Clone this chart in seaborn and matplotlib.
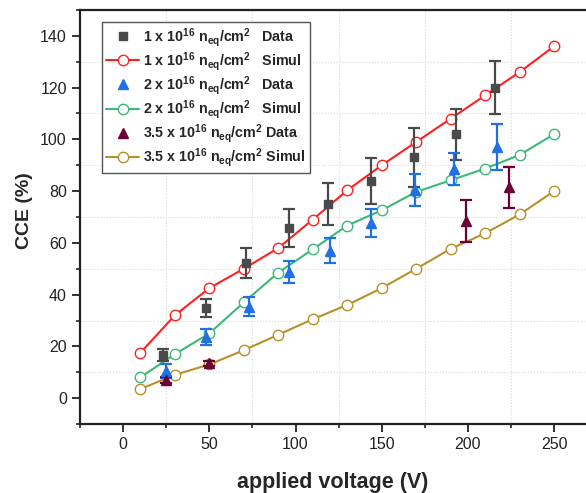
import numpy as np
import pandas as pd
import seaborn as sns
import matplotlib.pyplot as plt
from matplotlib.ticker import MultipleLocator

# simulation (open circles)
v_sim = [10, 30, 50, 70, 90, 110, 130, 150, 170, 190, 210, 230, 250]
sim_1 = [17.5, 32, 42.5, 50, 58, 69, 80.3, 90, 99, 108, 117, 126, 136]
sim_2 = [8, 17, 25, 37, 48.5, 57.5, 66.7, 72.6, 79.7, 84.2, 88.7, 94, 102]
sim_35 = [3.5, 9, 13, 18.5, 24.5, 30.5, 36, 42.5, 50, 57.7, 63.7, 71, 80]

# measured data
v_d1 = [23, 48, 71, 96, 119, 144, 169, 193, 216]
d1 = [16.7, 35, 52.2, 65.7, 75, 84, 93, 102, 120]
e1 = [2.2, 3.5, 5.7, 7.3, 8, 8.8, 11.3, 9.8, 10.2]

v_d2 = [24.6, 48.3, 73, 96, 120, 144, 169.3, 192, 217]
d2 = [10.5, 23.7, 35.3, 48.8, 57, 67.5, 80.5, 88.5, 97]
e2 = [2.6, 3.2, 3.7, 4.2, 4.7, 5.4, 6.2, 6.1, 8.9]

v_d35 = [25, 50, 199, 224]
d35 = [7, 13.5, 68.5, 81.5]
e35 = [1.2, 1, 8, 8]

lab1 = r'1 x 10$^{\mathbf{16}}$ n$_{\mathbf{eq}}$/cm$^{\mathbf{2}}$'
lab2 = r'2 x 10$^{\mathbf{16}}$ n$_{\mathbf{eq}}$/cm$^{\mathbf{2}}$'
lab35 = r'3.5 x 10$^{\mathbf{16}}$ n$_{\mathbf{eq}}$/cm$^{\mathbf{2}}$'

sns.set_style('white')
plt.rcParams['font.family'] = ['Liberation Sans', 'DejaVu Sans']
plt.rcParams['mathtext.fontset'] = 'custom'
plt.rcParams['mathtext.rm'] = 'Liberation Sans'
plt.rcParams['mathtext.bf'] = 'Liberation Sans:bold'

fig = plt.figure(figsize=(5.86, 4.93), dpi=100)
ax = fig.add_axes([80/586, 69/493, 506/586, 414/493])

c_red, c_green, c_gold = '#ff2020', '#3cb878', '#b8902a'
c_blk, c_blue, c_mar = '#4a4a4a', '#1f6fe6', '#6b0035'

sim = pd.DataFrame({'v': v_sim, 's1': sim_1, 's2': sim_2, 's35': sim_35})
for col, c in [('s1', c_red), ('s2', c_green), ('s35', c_gold)]:
    sns.lineplot(data=sim, x='v', y=col, ax=ax, color=c, lw=1.5, marker='o',
                 markersize=7.5, markerfacecolor='white', markeredgecolor=c,
                 markeredgewidth=1.0, zorder=2)

h_d1 = ax.errorbar(v_d1, d1, yerr=e1, fmt='s', color=c_blk, ms=5.5, elinewidth=1.6,
                   capsize=4, capthick=1.6, zorder=3)
h_d2 = ax.errorbar(v_d2, d2, yerr=e2, fmt='^', color=c_blue, ms=7, elinewidth=1.6,
                   capsize=4, capthick=1.6, zorder=3)
h_d35 = ax.errorbar(v_d35, d35, yerr=e35, fmt='^', color=c_mar, ms=7, elinewidth=1.6,
                    capsize=4, capthick=1.6, zorder=3)

lines = ax.get_lines()
sim_handles = [l for l in lines if l.get_marker() == 'o'][:3]
handles = [h_d1[0], sim_handles[0], h_d2[0], sim_handles[1], h_d35[0], sim_handles[2]]
labels = [lab1 + '   Data', lab1 + '   Simul', lab2 + '   Data', lab2 + '   Simul',
          lab35 + ' Data', lab35 + ' Simul']
leg = ax.legend(handles, labels, loc='upper left', bbox_to_anchor=(0.043, 0.972),
                borderaxespad=0, fancybox=False, edgecolor='#555555', framealpha=1,
                prop={'weight': 'bold', 'size': 10.3}, handlelength=2.3,
                labelspacing=0.08, handletextpad=0.3, borderpad=0.3)
leg.get_frame().set_linewidth(1.0)

ax.set_xlim(-25, 268.5)
ax.set_ylim(-10, 150)
ax.xaxis.set_major_locator(MultipleLocator(50))
ax.xaxis.set_minor_locator(MultipleLocator(25))
ax.yaxis.set_major_locator(MultipleLocator(20))
ax.yaxis.set_minor_locator(MultipleLocator(10))
ax.grid(False)
ax.grid(which='minor', color='#d8d8d8', ls=':', lw=0.8)
ax.tick_params(which='major', direction='out', length=6, width=1.3,
               labelsize=11.5, colors='#222222', left=True, bottom=True)
ax.tick_params(which='minor', direction='out', length=3, width=1.2,
               left=True, bottom=True)
for s in ['left', 'bottom', 'top']:
    ax.spines[s].set_linewidth(1.6)
    ax.spines[s].set_color('#222222')
ax.spines['right'].set_visible(False)

ax.set_xlabel('applied voltage (V)', fontsize=15.5, fontweight='bold', labelpad=14)
ax.set_ylabel('CCE (%)', fontsize=14, fontweight='bold')
ax.yaxis.set_label_coords(-0.092, 0.515)

plt.savefig('out.png', dpi=100)
